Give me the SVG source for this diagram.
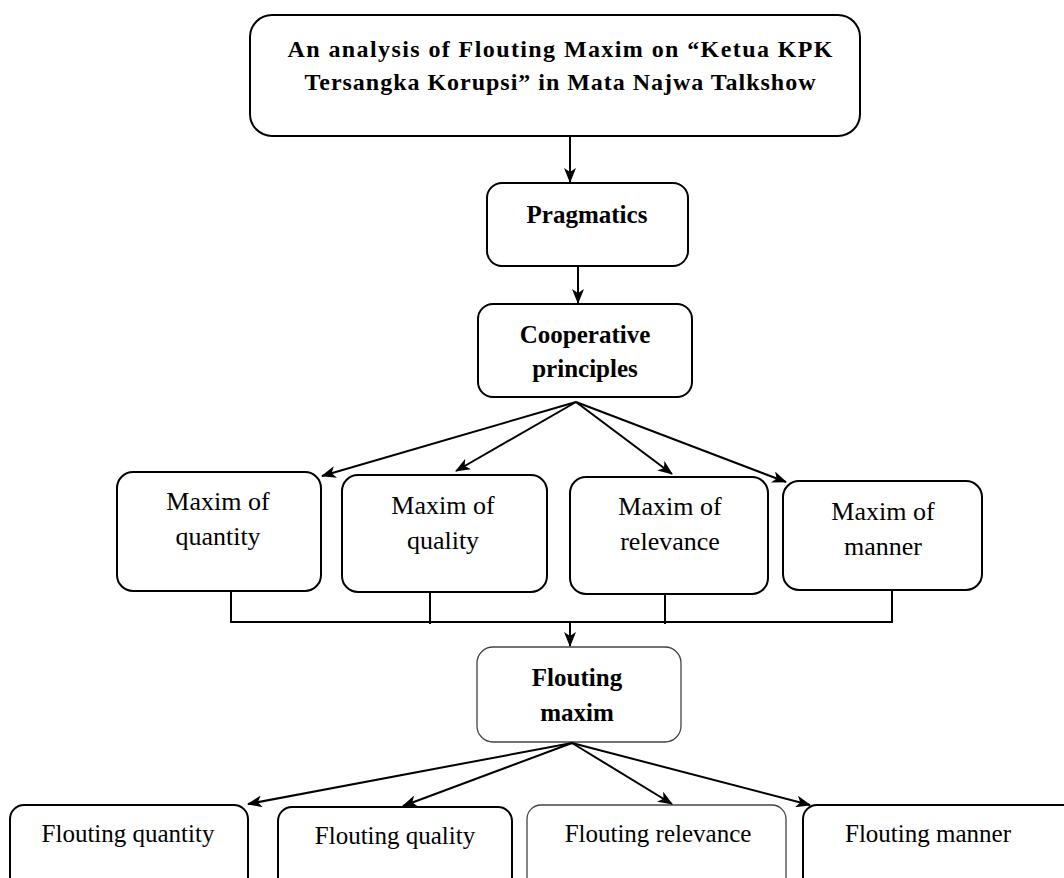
<svg xmlns="http://www.w3.org/2000/svg" width="1064" height="878" viewBox="0 0 1064 878">
<style>
.box{fill:#fff;stroke:#000;stroke-width:2}
.thin{fill:#fff;stroke:#444;stroke-width:1.3}
.b{font-family:"Liberation Serif","Times New Roman",serif;font-weight:bold;fill:#000;text-anchor:middle}
.r{font-family:"Liberation Serif","Times New Roman",serif;fill:#000;text-anchor:middle}
.c{fill:none;stroke:#000;stroke-width:2}
</style>
<defs>
<marker id="ah" markerWidth="15" markerHeight="12" refX="14" refY="6" orient="auto" markerUnits="userSpaceOnUse">
<path d="M0,0 L15,6 L0,12 L4,6 Z" fill="#000"/>
</marker>
</defs>
<rect width="1064" height="878" fill="#fff"/>
<g id="title">
<rect class="box" x="250" y="15" width="610" height="121" rx="22"/>
<text class="b" x="560" y="57" font-size="24" textLength="545" lengthAdjust="spacing">An analysis of Flouting Maxim on “Ketua KPK</text>
<text class="b" x="560" y="90" font-size="24" textLength="511" lengthAdjust="spacing">Tersangka Korupsi” in Mata Najwa Talkshow</text>
</g>
<g id="pragmatics">
<rect class="box" x="487" y="183" width="201" height="83" rx="15"/>
<text class="b" x="587" y="223" font-size="25">Pragmatics</text>
</g>
<g id="cooperative">
<rect class="box" x="478" y="304" width="214" height="93" rx="15"/>
<text class="b" x="585" y="343" font-size="25">Cooperative</text>
<text class="b" x="585" y="377" font-size="25">principles</text>
</g>
<g id="m-quantity">
<rect class="box" x="117" y="472" width="204" height="119" rx="16"/>
<text class="r" x="218" y="510" font-size="26">Maxim of</text>
<text class="r" x="218" y="545" font-size="26">quantity</text>
</g>
<g id="m-quality">
<rect class="box" x="342" y="475" width="205" height="117" rx="16"/>
<text class="r" x="443" y="514" font-size="26">Maxim of</text>
<text class="r" x="443" y="549" font-size="26">quality</text>
</g>
<g id="m-relevance">
<rect class="box" x="570" y="477" width="198" height="117" rx="16"/>
<text class="r" x="670" y="515" font-size="26">Maxim of</text>
<text class="r" x="670" y="550" font-size="26">relevance</text>
</g>
<g id="m-manner">
<rect class="box" x="783" y="481" width="199" height="109" rx="16"/>
<text class="r" x="883" y="520" font-size="26">Maxim of</text>
<text class="r" x="883" y="555" font-size="26">manner</text>
</g>
<g id="flouting-maxim">
<rect class="thin" x="477" y="647" width="204" height="95" rx="16"/>
<text class="b" x="577" y="686" font-size="25">Flouting</text>
<text class="b" x="577" y="721" font-size="25">maxim</text>
</g>
<g id="f-quantity">
<rect class="box" x="10" y="805" width="238" height="90" rx="14"/>
<text class="r" x="128" y="842" font-size="25">Flouting quantity</text>
</g>
<g id="f-quality">
<rect class="box" x="278" y="807" width="234" height="88" rx="14"/>
<text class="r" x="395" y="844" font-size="25">Flouting quality</text>
</g>
<g id="f-relevance">
<rect class="thin" x="527" y="805" width="259" height="90" rx="14"/>
<text class="r" x="658" y="842" font-size="25">Flouting relevance</text>
</g>
<g id="f-manner">
<rect class="box" x="803" y="805" width="280" height="90" rx="14"/>
<text class="r" x="928" y="842" font-size="25">Flouting manner</text>
</g>
<g id="connectors">
<line class="c" x1="570" y1="136" x2="570" y2="182" marker-end="url(#ah)"/>
<line class="c" x1="578" y1="266" x2="578" y2="303" marker-end="url(#ah)"/>
<line class="c" x1="576" y1="402" x2="322" y2="476" marker-end="url(#ah)"/>
<line class="c" x1="576" y1="402" x2="456" y2="471" marker-end="url(#ah)"/>
<line class="c" x1="576" y1="402" x2="672" y2="474" marker-end="url(#ah)"/>
<line class="c" x1="576" y1="402" x2="786" y2="482" marker-end="url(#ah)"/>
<polyline class="c" points="231,591 231,622 892,622 892,590"/>
<line class="c" x1="430" y1="592" x2="430" y2="624"/>
<line class="c" x1="665" y1="594" x2="665" y2="624"/>
<line class="c" x1="570" y1="622" x2="570" y2="646" marker-end="url(#ah)"/>
<line class="c" x1="572" y1="743" x2="248" y2="804" marker-end="url(#ah)"/>
<line class="c" x1="572" y1="743" x2="403" y2="806" marker-end="url(#ah)"/>
<line class="c" x1="572" y1="743" x2="672" y2="804" marker-end="url(#ah)"/>
<line class="c" x1="572" y1="743" x2="810" y2="805" marker-end="url(#ah)"/>
</g>
</svg>
